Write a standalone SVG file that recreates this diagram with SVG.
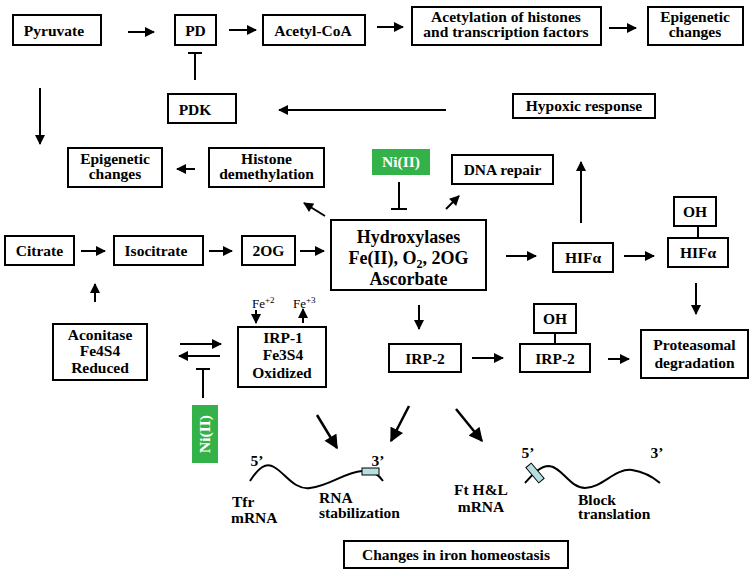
<svg xmlns="http://www.w3.org/2000/svg" width="754" height="577" viewBox="0 0 754 577">
<defs>
<style>
text{font-family:'Liberation Serif','DejaVu Serif','Times New Roman',serif}
.b{fill:#fff;stroke:#000;stroke-width:2}
.t{font-weight:bold;font-size:15.5px;fill:#000;text-anchor:middle}
.s{font-size:13px;fill:#000}
.l{stroke:#000;stroke-width:2;fill:none}
.a{stroke:#000;stroke-width:2;fill:none;marker-end:url(#ah)}
.ab{stroke:#000;stroke-width:2.5;fill:none;marker-end:url(#ahb)}
.g{fill:#33b24a}
.w{font-weight:bold;font-size:15.5px;fill:#fff;text-anchor:middle}
.rna{fill:#b7dfe2;stroke:#000;stroke-width:1}
</style>
<marker id="ah" viewBox="0 0 10 10" refX="9" refY="5" markerWidth="11" markerHeight="10" markerUnits="userSpaceOnUse" orient="auto"><path d="M0,0 L10,5 L0,10 z" fill="#000"/></marker>
<marker id="ahb" viewBox="0 0 10 10" refX="9" refY="5" markerWidth="15" markerHeight="14" markerUnits="userSpaceOnUse" orient="auto"><path d="M0,0 L10,5 L0,10 z" fill="#000"/></marker>
</defs>
<rect width="754" height="577" fill="#fff"/>

<g id="connectors">
<line class="a" x1="128" y1="32" x2="154" y2="32"/>
<line class="a" x1="229" y1="30" x2="256" y2="30"/>
<line class="a" x1="377" y1="27" x2="403" y2="27"/>
<line class="a" x1="609" y1="28" x2="636" y2="28"/>
<line class="l" x1="195" y1="80" x2="195" y2="53"/>
<line class="l" x1="188" y1="53" x2="202" y2="53"/>
<line class="a" x1="446" y1="110" x2="279" y2="110"/>
<line class="a" x1="40" y1="88" x2="40" y2="144"/>
<line class="a" x1="195" y1="169" x2="177" y2="169"/>
<line class="a" x1="325" y1="216" x2="304" y2="203"/>
<line class="a" x1="81" y1="251" x2="105" y2="251"/>
<line class="a" x1="209" y1="251" x2="232" y2="251"/>
<line class="a" x1="300" y1="251" x2="324" y2="251"/>
<line class="l" x1="399" y1="182" x2="399" y2="209"/>
<line class="l" x1="391" y1="209" x2="407" y2="209"/>
<line class="a" x1="446" y1="209" x2="459" y2="196"/>
<line class="a" x1="506" y1="256" x2="536" y2="256"/>
<line class="a" x1="581" y1="223" x2="581" y2="162"/>
<line class="a" x1="624" y1="256" x2="654" y2="256"/>
<line class="l" x1="698" y1="226" x2="698" y2="238"/>
<line class="a" x1="696" y1="283" x2="696" y2="314"/>
<line class="a" x1="419" y1="305" x2="419" y2="329"/>
<line class="a" x1="472" y1="358" x2="503" y2="358"/>
<line class="l" x1="555" y1="333" x2="555" y2="344"/>
<line class="a" x1="608" y1="359" x2="629" y2="359"/>
<line class="a" x1="95" y1="302" x2="95" y2="284"/>
<line class="a" x1="180" y1="344" x2="221" y2="344"/>
<line class="a" x1="220" y1="356" x2="179" y2="356"/>
<line class="l" x1="203" y1="398" x2="203" y2="369"/>
<line class="l" x1="196" y1="369" x2="210" y2="369"/>
<line class="a" x1="256" y1="310" x2="256" y2="323"/>
<line class="a" x1="303" y1="323" x2="303" y2="309"/>
<line class="ab" x1="317" y1="415" x2="337" y2="448"/>
<line class="ab" x1="409" y1="406" x2="391" y2="441"/>
<line class="ab" x1="456" y1="409" x2="482" y2="441"/>
</g>

<g id="pyruvate"><rect class="b" x="13" y="15" width="88" height="30"/><text class="t" x="54" y="36">Pyruvate</text></g>
<g id="pd"><rect class="b" x="175" y="15" width="41" height="30"/><text class="t" x="195.5" y="36">PD</text></g>
<g id="acetylcoa"><rect class="b" x="263" y="15" width="102" height="30"/><text class="t" x="313" y="36">Acetyl-CoA</text></g>
<g id="acetylation"><rect class="b" x="412" y="7" width="189" height="38"/><text class="t" x="506" y="22">Acetylation of histones</text><text class="t" x="506" y="37">and transcription factors</text></g>
<g id="epigenetic1"><rect class="b" x="648" y="7" width="95" height="38"/><text class="t" x="695" y="22">Epigenetic</text><text class="t" x="695" y="37">changes</text></g>
<g id="pdk"><rect class="b" x="168" y="94" width="68" height="29"/><text class="t" x="195" y="115">PDK</text></g>
<g id="hypoxic"><rect class="b" x="513" y="94" width="142" height="24"/><text class="t" x="584" y="111">Hypoxic response</text></g>
<g id="epigenetic2"><rect class="b" x="68" y="148" width="94" height="39"/><text class="t" x="115" y="164">Epigenetic</text><text class="t" x="115" y="179">changes</text></g>
<g id="histone"><rect class="b" x="209" y="148" width="115" height="39"/><text class="t" x="266.5" y="164">Histone</text><text class="t" x="266.5" y="179">demethylation</text></g>
<g id="ni1"><rect class="g" x="372" y="149" width="58" height="26"/><text class="w" x="401" y="167">Ni(II)</text></g>
<g id="dnarepair"><rect class="b" x="452" y="155" width="101" height="29"/><text class="t" x="502.5" y="175">DNA repair</text></g>
<g id="citrate"><rect class="b" x="5" y="236" width="69" height="29"/><text class="t" x="39.5" y="256">Citrate</text></g>
<g id="isocitrate"><rect class="b" x="114" y="236" width="89" height="29"/><text class="t" x="156" y="256">Isocitrate</text></g>
<g id="og"><rect class="b" x="242" y="236" width="53" height="29"/><text class="t" x="268.5" y="256">2OG</text></g>
<g id="hydroxylases"><rect class="b" x="331" y="220" width="155" height="70"/>
<text class="t" x="408.5" y="243" style="font-size:18px">Hydroxylases</text>
<text class="t" x="408.5" y="264" style="font-size:18px">Fe(II), O<tspan font-size="12" dy="4">2</tspan><tspan dy="-4">, 2OG</tspan></text>
<text class="t" x="408.5" y="285" style="font-size:18px">Ascorbate</text></g>
<g id="hif1"><rect class="b" x="553" y="243" width="60" height="29"/><text class="t" x="583" y="263">HIFα</text></g>
<g id="oh1"><rect class="b" x="674" y="197" width="42" height="29"/><text class="t" x="695" y="217">OH</text></g>
<g id="hif2"><rect class="b" x="668" y="238" width="60" height="29"/><text class="t" x="698" y="258">HIFα</text></g>
<g id="aconitase"><rect class="b" x="53" y="324" width="94" height="56"/><text class="t" x="100" y="340">Aconitase</text><text class="t" x="100" y="356">Fe4S4</text><text class="t" x="100" y="373">Reduced</text></g>
<g id="fe"><text class="s" x="252" y="308">Fe<tspan font-size="9" dy="-5">+2</tspan></text><text class="s" x="293" y="308">Fe<tspan font-size="9" dy="-5">+3</tspan></text></g>
<g id="irp1"><rect class="b" x="238" y="327" width="88" height="60"/><text class="t" x="283" y="343">IRP-1</text><text class="t" x="283" y="360">Fe3S4</text><text class="t" x="282" y="378">Oxidized</text></g>
<g id="irp2"><rect class="b" x="389" y="344" width="72" height="28"/><text class="t" x="425" y="364">IRP-2</text></g>
<g id="oh2"><rect class="b" x="534" y="304" width="42" height="29"/><text class="t" x="555" y="324">OH</text></g>
<g id="irp2oh"><rect class="b" x="520" y="344" width="70" height="28"/><text class="t" x="555" y="364">IRP-2</text></g>
<g id="proteasomal"><rect class="b" x="641" y="330" width="107" height="48"/><text class="t" x="694.5" y="350">Proteasomal</text><text class="t" x="694.5" y="368">degradation</text></g>
<g id="ni2"><rect class="g" x="192" y="405" width="26" height="58"/><text class="w" transform="translate(210,434) rotate(-90)" x="0" y="0">Ni(II)</text></g>
<g id="tfr">
<path class="l" d="M250,481 C258,468 266,462 274,467 C286,474 294,490 310,488 C330,486 345,472 362,471 C372,470 378,474 383,481"/>
<rect class="rna" x="362" y="468" width="17" height="7"/>
<text class="t" x="257" y="466">5’</text><text class="t" x="378" y="466">3’</text>
<text class="t" x="232" y="507" style="text-anchor:start">Tfr</text><text class="t" x="231" y="523" style="text-anchor:start">mRNA</text>
<text class="t" x="319" y="503" style="text-anchor:start">RNA</text><text class="t" x="319" y="518" style="text-anchor:start">stabilization</text>
</g>
<g id="ft">
<path class="l" d="M525,483 C533,474 540,466 549,466 C562,467 570,488 585,488 C602,488 615,468 632,470 C645,472 653,477 660,483"/>
<rect class="rna" x="-10" y="-3.5" width="20" height="7" transform="translate(535,473) rotate(50)"/>
<text class="t" x="528" y="458">5’</text><text class="t" x="657" y="458">3’</text>
<text class="t" x="481" y="495">Ft H&amp;L</text><text class="t" x="481" y="512">mRNA</text>
<text class="t" x="578" y="505" style="text-anchor:start">Block</text><text class="t" x="578" y="519" style="text-anchor:start">translation</text>
</g>
<g id="iron"><rect class="b" x="344" y="541" width="224" height="27"/><text class="t" x="456" y="560">Changes in iron homeostasis</text></g>
</svg>
